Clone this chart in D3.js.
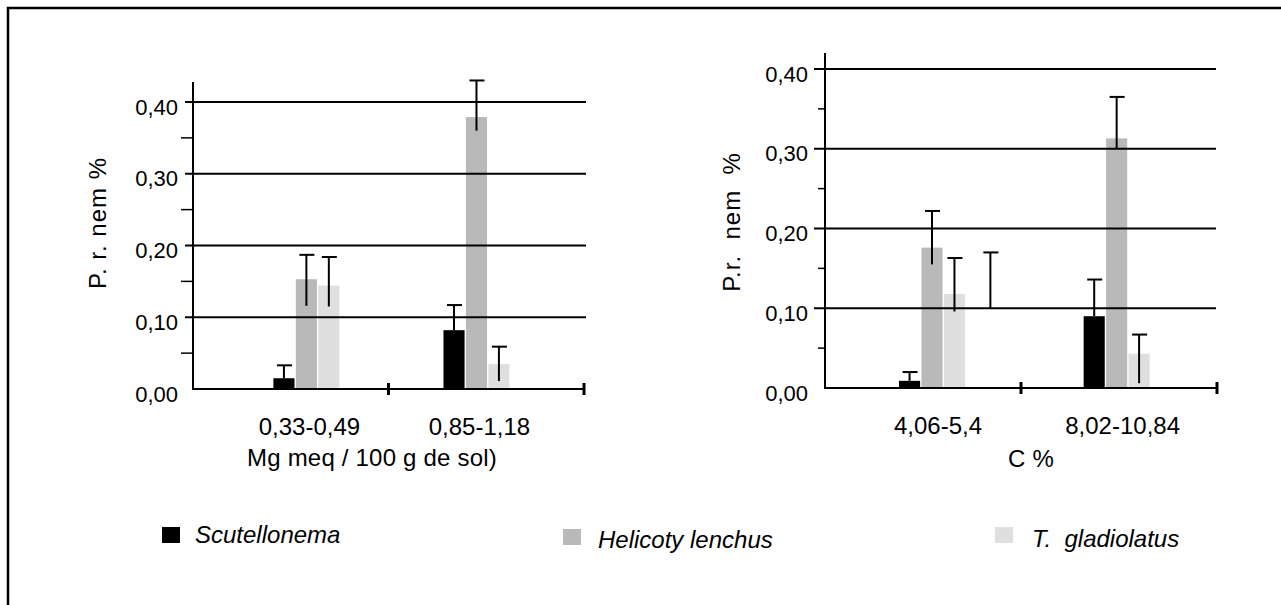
<!DOCTYPE html>
<html>
<head>
<meta charset="utf-8">
<script src="https://cdn.jsdelivr.net/npm/d3@7"></script>
<style>
	body { margin: 0; background: #fff; }
	svg text { font-family: "Liberation Sans", Arial, Helvetica, sans-serif; fill: #000; }
</style>
</head>
<body>
<svg width="1281" height="605"></svg>
<script>
// series shared by both panels
var series = ["Scutellonema", "Helicoty lenchus", "T. gladiolatus"]
var colors = ["#000000", "#b9b9b9", "#dfdfdf"]

// Mg panel
var mgCategories = ["0,33-0,49", "0,85-1,18"]
var mgValues = [[0.015, 0.082], [0.153, 0.379], [0.144, 0.035]]
var mgHigh   = [[0.033, 0.117], [0.187, 0.430], [0.184, 0.059]]
var mgLow    = [[0.015, 0.082], [0.116, 0.360], [0.115, 0.011]]

// C panel
var cCategories = ["4,06-5,4", "8,02-10,84"]
var cValues = [[0.009, 0.090], [0.176, 0.313], [0.118, 0.043]]
var cHigh   = [[0.020, 0.136], [0.222, 0.365], [0.163, 0.067]]
var cLow    = [[0.009, 0.090], [0.155, 0.300], [0.096, 0.006]]
// lone error bar with no visible bar next to the first C group
var cExtra = [{category: "4,06-5,4", low: 0.10, high: 0.17}]

var yTicks = [0, 0.1, 0.2, 0.3, 0.4]
var yMinorTicks = [0.05, 0.15, 0.25, 0.35]

var fmt = function(d){ return d3.format(".2f")(d).replace(".", ",") }
var svg = d3.select("svg")

// frame (only top and left edges are in view)
svg.append("rect")
	.attr("x", 8).attr("y", 8)
	.attr("width", 1300).attr("height", 620)
	.attr("fill", "none").attr("stroke", "#000").attr("stroke-width", 2.5)

drawPanel({
	categories: mgCategories, values: mgValues, high: mgHigh, low: mgLow, extra: [],
	axisX: 193, right: 584, gridEnd: 586, bottom: 389, top40: 102, axisTop: 82,
	majorLen: 8, minorLen: 12, labelGap: 15, groupPos: [0.29, 0.725], labelShift: 3,
	catY: 435, titleY: 466, titleX: 372, title: "Mg meq / 100 g de sol)",
	yTitleX: 97, yTitleY: 223, yTitle: "P. r. nem %"
})

drawPanel({
	categories: cCategories, values: cValues, high: cHigh, low: cLow, extra: cExtra,
	axisX: 825, right: 1217, gridEnd: 1216, bottom: 388, top40: 69, axisTop: 53,
	majorLen: 11, minorLen: 7, labelGap: 17, groupPos: [0.273, 0.744], labelShift: 6,
	catY: 434, titleY: 467, titleX: 1031, title: "C %",
	yTitleX: 731, yTitleY: 222, yTitle: "P.r.  nem  %"
})

function drawPanel(p){
	var g = svg.append("g")
	var w = p.right - p.axisX

	var y = d3.scaleLinear().domain([0, 0.4]).range([p.bottom, p.top40])
	var x = d3.scalePoint()
		.domain(p.categories)
		.range([p.axisX + p.groupPos[0] * w, p.axisX + p.groupPos[1] * w])
	var sub = d3.scaleBand().domain(series).range([-33, 33]).paddingInner(0.06)

	var rows = []
	series.forEach(function(s, i){
		p.categories.forEach(function(c, j){
			rows.push({s: s, i: i, c: c, v: p.values[i][j], hi: p.high[i][j], lo: p.low[i][j]})
		})
	})

	// bars
	g.selectAll(".bar").data(rows).enter().append("rect")
		.attr("class", "bar")
		.attr("x", function(d){ return x(d.c) + sub(d.s) })
		.attr("width", sub.bandwidth())
		.attr("y", function(d){ return y(d.v) })
		.attr("height", function(d){ return y(0) - y(d.v) })
		.attr("fill", function(d){ return colors[d.i] })

	// gridlines sit over the bars
	g.selectAll(".grid").data(yTicks.slice(1)).enter().append("line")
		.attr("x1", p.axisX - p.majorLen).attr("x2", p.gridEnd)
		.attr("y1", function(d){ return y(d) }).attr("y2", function(d){ return y(d) })
		.attr("stroke", "#000").attr("stroke-width", 2)

	g.selectAll(".minor").data(yMinorTicks).enter().append("line")
		.attr("x1", p.axisX - p.minorLen).attr("x2", p.axisX)
		.attr("y1", function(d){ return y(d) }).attr("y2", function(d){ return y(d) })
		.attr("stroke", "#000").attr("stroke-width", 1.5)

	// error bars
	var errs = rows.map(function(d){
		return {cx: x(d.c) + sub(d.s) + sub.bandwidth() / 2, lo: d.lo, hi: d.hi}
	}).concat(p.extra.map(function(d){
		return {cx: x(d.category) + sub(series[series.length - 1]) + sub.bandwidth() / 2 + sub.step() * 1.6, lo: d.low, hi: d.high}
	}))
	var eg = g.selectAll(".err").data(errs).enter().append("g")
	eg.append("line")
		.attr("x1", function(d){ return d.cx }).attr("x2", function(d){ return d.cx })
		.attr("y1", function(d){ return y(d.lo) }).attr("y2", function(d){ return y(d.hi) })
		.attr("stroke", "#000").attr("stroke-width", 2)
	eg.append("line")
		.attr("x1", function(d){ return d.cx - 7 }).attr("x2", function(d){ return d.cx + 8 })
		.attr("y1", function(d){ return y(d.hi) }).attr("y2", function(d){ return y(d.hi) })
		.attr("stroke", "#000").attr("stroke-width", 2)

	// axes
	g.append("line")
		.attr("x1", p.axisX).attr("x2", p.axisX)
		.attr("y1", p.axisTop).attr("y2", y(0))
		.attr("stroke", "#000").attr("stroke-width", 2)
	g.append("line")
		.attr("x1", p.axisX - 1).attr("x2", p.right)
		.attr("y1", y(0)).attr("y2", y(0))
		.attr("stroke", "#000").attr("stroke-width", 2)
	g.selectAll(".xtick").data([p.axisX + w / 2, p.right]).enter().append("line")
		.attr("x1", function(d){ return d }).attr("x2", function(d){ return d })
		.attr("y1", y(0) - 6).attr("y2", y(0) + 6)
		.attr("stroke", "#000").attr("stroke-width", 3)

	g.selectAll(".ylab").data(yTicks).enter().append("text")
		.attr("x", p.axisX - p.labelGap)
		.attr("y", function(d){ return y(d) + 5 })
		.attr("text-anchor", "end")
		.attr("dominant-baseline", "central")
		.style("font-size", "22px")
		.text(fmt)

	g.selectAll(".xlab").data(p.categories).enter().append("text")
		.attr("x", function(d){ return x(d) + p.labelShift })
		.attr("y", p.catY)
		.attr("text-anchor", "middle")
		.style("font-size", "24px")
		.text(function(d){ return d })

	g.append("text")
		.attr("x", p.titleX).attr("y", p.titleY)
		.attr("text-anchor", "middle")
		.style("font-size", "24px")
		.style("letter-spacing", "0.2px")
		.text(p.title)

	g.append("text")
		.attr("transform", "translate(" + p.yTitleX + "," + p.yTitleY + ") rotate(-90)")
		.attr("text-anchor", "middle")
		.attr("dominant-baseline", "central")
		.style("font-size", "24px")
		.style("letter-spacing", "1px")
		.style("white-space", "pre")
		.text(p.yTitle)
}

// legend
var legendX = [162, 563, 995]
var legendY = [527, 529, 527]
var leg = svg.selectAll(".legend").data(series).enter().append("g")
	.attr("transform", function(d, i){ return "translate(" + legendX[i] + "," + legendY[i] + ")" })
leg.append("rect")
	.attr("width", 18).attr("height", 16)
	.attr("fill", function(d, i){ return colors[i] })
leg.append("text")
	.attr("x", function(d, i){ return [33, 35, 37][i] })
	.attr("y", function(d, i){ return [16, 19, 20][i] })
	.style("font-size", "24px")
	.style("font-style", "italic")
	.style("white-space", "pre")
	.text(function(d){ return d === "T. gladiolatus" ? "T.  gladiolatus" : d })
</script>
</body>
</html>
